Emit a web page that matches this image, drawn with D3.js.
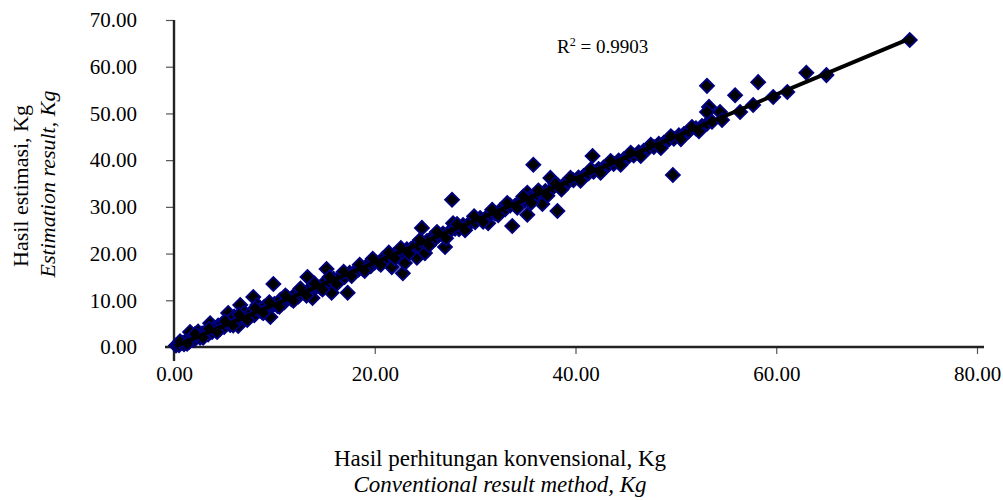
<!DOCTYPE html>
<html>
<head>
<meta charset="utf-8">
<script src="https://cdn.jsdelivr.net/npm/d3@7"></script>
<style>
  html, body { margin: 0; padding: 0; background: #fff; }
  svg { display: block; }
  text { font-family: "Liberation Serif", "Times New Roman", serif; fill: #000; }
</style>
</head>
<body>
<div id="chart"></div>
<script>
// ---- data ----
const conventional = [
  0.2,0.5,0.8,1.0,1.2,1.5,1.6,1.8,2.0,2.2,2.4,2.6,2.8,3.0,3.2,3.4,3.6,3.8,4.0,4.2,
  4.4,4.6,4.8,5.0,5.2,5.4,5.6,5.8,6.0,6.2,6.4,6.6,6.8,7.0,7.2,7.5,7.9,8.0,8.3,8.5,
  8.8,9.0,9.3,9.6,9.9,10.0,10.3,10.6,11.0,11.3,11.7,12.0,12.4,12.8,13.3,13.1,13.5,13.8,14.2,14.6,
  15.0,15.2,15.4,15.7,15.9,16.3,16.7,17.0,17.3,17.5,18.0,18.4,18.8,19.2,19.6,20.0,20.4,20.8,21.2,21.7,
  21.9,22.3,22.8,23.0,23.2,23.6,24.0,24.2,24.4,24.7,25.0,25.2,25.6,26.0,26.4,26.8,27.0,27.3,27.7,27.8,
  28.0,28.4,28.8,29.2,29.6,30.0,30.5,31.0,31.3,31.5,32.0,32.5,33.0,33.5,33.7,34.0,34.5,35.0,35.2,35.2,
  35.5,35.8,36.0,36.5,36.7,37.0,37.5,37.6,38.2,38.3,38.8,39.3,39.8,40.3,40.8,41.3,41.7,41.8,42.3,42.8,
  43.3,43.8,44.3,44.8,45.3,45.8,46.3,46.8,47.3,47.8,48.3,48.8,49.3,49.7,49.8,50.3,50.8,51.3,52.0,52.6,
  53.1,53.1,53.3,53.1,53.6,54.4,54.6,55.9,56.4,57.7,58.2,59.7,61.1,63.0,65.0,73.3,
  0.6,1.3,2.1,2.9,3.5,4.3,5.1,5.9,6.5,7.3,8.1,8.9,9.5,10.5,11.1,11.9,12.6,13.2,14.0,14.8,
  15.5,16.2,16.9,17.7,18.5,19.0,19.8,20.6,21.4,22.0,22.6,23.4,24.5,25.4,26.2,27.1,28.2,29.0,29.9,30.8,
  31.7,32.3,33.2,34.2,34.8,35.6,36.3,37.2,38.0,38.6,39.5,40.5,41.5,42.5,43.5,44.5,45.5,46.5,47.5,48.5,
  49.5,50.5,51.6,52.3
];
const estimated = [
  0.3,0.4,0.9,0.6,1.4,1.1,3.2,1.9,1.5,2.4,3.3,2.0,2.9,2.5,3.4,2.7,5.1,3.2,4.1,3.5,
  4.6,3.9,5.0,4.3,5.6,7.3,4.7,5.9,6.5,5.2,4.5,9.0,6.3,7.4,6.0,7.0,10.7,6.8,9.0,7.8,
  7.4,8.6,7.9,6.4,13.5,9.2,8.8,10.1,9.6,10.6,10.2,11.1,10.8,11.9,15.0,11.4,12.4,10.5,12.9,12.7,
  13.8,16.7,13.4,11.6,14.6,14.3,15.3,15.0,11.6,15.9,16.1,16.6,16.7,17.4,17.3,18.1,18.0,18.9,18.8,17.1,
  19.7,19.5,15.8,18.0,20.9,21.0,21.7,19.1,21.5,25.5,20.1,22.7,23.2,23.1,23.9,24.3,21.4,24.4,31.5,26.5,
  25.3,25.2,26.1,26.0,26.8,26.7,27.6,27.5,26.5,28.5,28.6,29.3,29.5,30.3,25.9,30.3,31.1,31.4,33.0,28.3,
  32.0,39.0,32.3,33.0,30.6,33.4,36.2,33.8,29.1,34.5,34.7,35.4,35.7,36.3,36.6,37.2,40.9,37.5,38.1,38.4,
  39.0,39.2,39.9,40.2,40.8,41.0,41.7,42.0,42.6,42.8,43.5,43.7,44.4,36.8,44.6,45.3,45.6,46.2,46.8,47.3,
  47.8,55.9,51.4,50.3,48.2,50.3,48.6,53.9,50.3,51.8,56.7,53.5,54.6,58.7,58.2,65.7,
  1.2,0.7,2.8,2.0,3.9,3.2,5.5,4.6,6.9,5.8,8.3,7.3,9.6,8.6,11.0,9.9,12.5,11.0,13.6,12.3,
  15.0,13.5,16.1,15.2,17.6,16.3,18.9,17.6,20.2,19.0,21.2,20.0,22.9,21.8,24.6,23.3,26.3,25.0,28.0,26.8,
  29.4,28.2,30.8,29.8,32.2,30.9,33.5,32.4,35.0,33.7,36.2,35.6,38.0,37.3,39.8,39.0,41.6,40.9,43.3,42.6,
  45.1,44.5,47.1,46.2
];
const xTicks = [0, 20, 40, 60, 80];
const yTicks = [0, 10, 20, 30, 40, 50, 60, 70];
const xTitle = ["Hasil perhitungan konvensional, Kg", "Conventional result method, Kg"];
const yTitle = ["Hasil estimasi, Kg", "Estimation result, Kg"];
const r2Label = "0.9903";

// ---- chart ----
const W = 1003, H = 500;
const svg = d3.select("#chart").append("svg").attr("width", W).attr("height", H);

const x = d3.scaleLinear().domain([0, 80]).range([174, 977]);
const y = d3.scaleLinear().domain([0, 70]).range([347, 20]);

const pts = conventional.map((v, i) => ({ x: v, y: estimated[i] }));

// axes
const xAxis = svg.append("g").attr("transform", `translate(0,${y(0)})`)
  .call(d3.axisBottom(x).tickValues(xTicks).tickFormat(d3.format(".2f")).tickSize(7).tickPadding(12).tickSizeOuter(0));
const yAxis = svg.append("g").attr("transform", `translate(${x(0)},0)`)
  .call(d3.axisLeft(y).tickValues(yTicks).tickFormat(d3.format(".2f")).tickSize(8).tickPadding(29).tickSizeOuter(0));

[xAxis, yAxis].forEach(g => {
  g.select(".domain").remove();
  g.selectAll(".tick line").attr("stroke", "#555").attr("stroke-width", 1.2);
  g.selectAll(".tick text").style("font-family", '"Liberation Serif", serif').style("font-size", "21px").attr("fill", "#000");
});
// axis lines (Excel style, slightly extended)
svg.append("line").attr("x1", x(0) - 9).attr("x2", x(80) + 7).attr("y1", y(0)).attr("y2", y(0))
  .attr("stroke", "#222").attr("stroke-width", 2.4);
svg.append("line").attr("x1", x(0)).attr("x2", x(0)).attr("y1", y(70)).attr("y2", y(0) + 14)
  .attr("stroke", "#222").attr("stroke-width", 2.4);

// points: diamonds (rotated squares)
const sym = d3.symbol().type(d3.symbolSquare).size(98);
svg.append("g").selectAll("path").data(pts).join("path")
  .attr("d", sym)
  .attr("transform", d => `translate(${x(d.x)},${y(d.y)}) rotate(45)`)
  .attr("fill", "#000")
  .attr("stroke", "#000080")
  .attr("stroke-width", 1.8);

// linear trendline from the data
const mx = d3.mean(pts, d => d.x), my = d3.mean(pts, d => d.y);
const slope = d3.sum(pts, d => (d.x - mx) * (d.y - my)) / d3.sum(pts, d => (d.x - mx) ** 2);
const icpt = my - slope * mx;
const [x0, x1] = d3.extent(pts, d => d.x);
svg.append("line")
  .attr("x1", x(x0)).attr("y1", y(icpt + slope * x0))
  .attr("x2", x(x1)).attr("y2", y(icpt + slope * x1))
  .attr("stroke", "#000").attr("stroke-width", 4);

// R² label
const r2 = svg.append("text").attr("x", 557).attr("y", 53).style("font-size", "19px");
r2.append("tspan").text("R");
r2.append("tspan").text("2").attr("dy", -7).style("font-size", "12px");
r2.append("tspan").text(" = " + r2Label).attr("dy", 7);

// x title
svg.append("text").attr("x", 500).attr("y", 466).attr("text-anchor", "middle").style("font-size", "23px").text(xTitle[0]);
svg.append("text").attr("x", 500).attr("y", 492).attr("text-anchor", "middle").style("font-size", "23px").style("font-style", "italic").text(xTitle[1]);

// y title
svg.append("text").attr("transform", "translate(28,186) rotate(-90)").attr("text-anchor", "middle").style("font-size", "22px").text(yTitle[0]);
svg.append("text").attr("transform", "translate(55,184) rotate(-90)").attr("text-anchor", "middle").style("font-size", "22px").style("font-style", "italic").text(yTitle[1]);
</script>
</body>
</html>
